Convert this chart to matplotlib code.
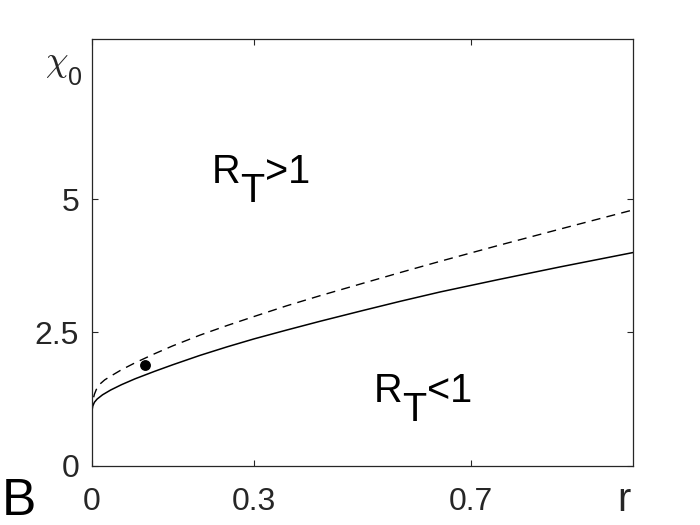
import matplotlib
matplotlib.use("Agg")
import matplotlib.pyplot as plt

plt.rcParams['font.family'] = ['Liberation Sans', 'DejaVu Sans']
plt.rcParams['mathtext.fontset'] = 'cm'

# ---- data ----
r_solid = [0, 0.002, 0.005, 0.01, 0.02, 0.035, 0.055, 0.08, 0.116, 0.15, 0.2, 0.25, 0.3,
           0.36, 0.4218, 0.5, 0.57, 0.6435, 0.75, 0.865, 1.0]
chi_solid = [1.00, 1.12, 1.19, 1.25, 1.33, 1.42, 1.52, 1.63, 1.77, 1.895, 2.07, 2.23, 2.38,
             2.545, 2.71, 2.91, 3.085, 3.26, 3.49, 3.73, 4.00]
r_dashed = [0, 0.002, 0.005, 0.0085, 0.015, 0.024, 0.035, 0.055, 0.08, 0.116, 0.15, 0.2, 0.25,
            0.3, 0.36, 0.4218, 0.5, 0.57, 0.6435, 0.75, 0.865, 1.0]
chi_dashed = [1.00, 1.22, 1.34, 1.43, 1.53, 1.61, 1.68, 1.80, 1.93, 2.10, 2.25, 2.45, 2.63,
              2.80, 3.00, 3.19, 3.42, 3.625, 3.835, 4.13, 4.44, 4.80]
dot_r = [0.099]
dot_chi = [1.89]
xticks = [0, 0.3, 0.7]
xticklabels = ['0', '0.3', '0.7']
yticks = [0, 2.5, 5]
yticklabels = ['0', '2.5', '5']

W, H = 700, 525
fig = plt.figure(figsize=(7, 5.25), dpi=100)
ax = fig.add_axes([91.7 / W, 1 - 465.7 / H, (633.3 - 91.7) / W, (465.7 - 39.3) / H])

ax.plot(r_solid, chi_solid, color='black', lw=1.1, solid_capstyle='butt')
ax.plot(r_dashed, chi_dashed, color='black', lw=1.0, linestyle=(0, (6.5, 4.5)))
ax.plot(dot_r, dot_chi, 'o', color='black', markersize=6.8)

ax.set_xlim(0, 1)
ax.set_ylim(0, 8)
ax.set_xticks(xticks)
ax.set_xticklabels(xticklabels)
ax.set_yticks(yticks)
ax.set_yticklabels(yticklabels)
ax.tick_params(axis='both', direction='in', length=4, width=0.8,
               top=True, right=True, labelsize=23, colors='#262626')
ax.tick_params(axis='x', pad=15)
ax.tick_params(axis='y', pad=9)
for sp in ax.spines.values():
    sp.set_linewidth(0.9)
    sp.set_color('#262626')


def fx(px):
    return px / W


def fy(py):
    return 1 - py / H


# region labels R_T>1 and R_T<1, T same size and lowered
def region_label(xd, yd, rel):
    fs = 28.5
    ax.text(xd, yd, 'R', fontsize=fs, ha='left', va='baseline')
    ax.annotate('T', (xd, yd), xytext=(0.722 * fs, -13.7), textcoords='offset points',
                fontsize=fs, ha='left', va='baseline')
    ax.annotate(rel + '1', (xd, yd), xytext=(0.722 * fs + 0.611 * fs, 0), textcoords='offset points',
                fontsize=fs, ha='left', va='baseline')


region_label(0.222, 5.30, '>')
region_label(0.521, 1.20, '<')

# axis name labels
fig.text(fx(45), fy(62), r'$\chi$', fontsize=26, ha='left', va='center', color='#262626')
fig.text(fx(68), fy(85), '0', fontsize=18, ha='left', va='baseline', color='#262626')
fig.text(fx(624), fy(510.7), 'r', fontsize=28.5, ha='center', va='baseline', color='#262626')
fig.text(fx(2), fy(515), 'B', fontsize=37, ha='left', va='baseline', color='black')

fig.savefig('out.png', dpi=100)
